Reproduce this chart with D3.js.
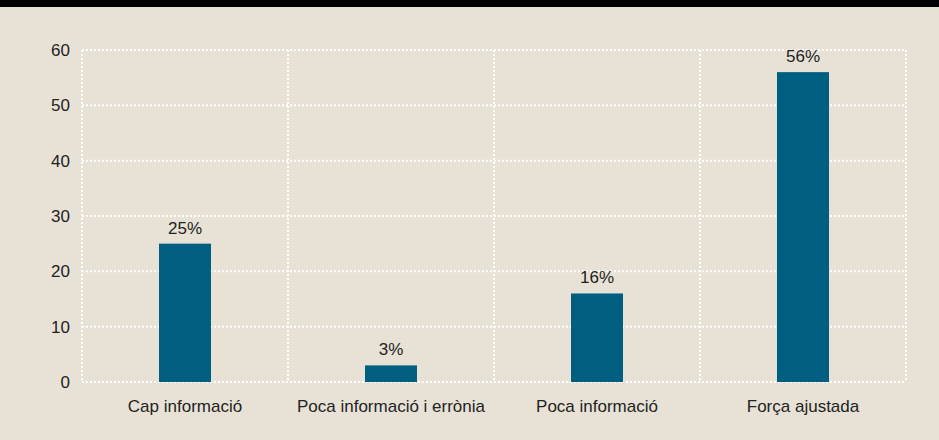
<!DOCTYPE html>
<html>
<head>
<meta charset="utf-8">
<script src="https://cdn.jsdelivr.net/npm/d3@7"></script>
<style>
    body { margin: 0; background: #e8e2d6; }
    svg { display: block; }
</style>
</head>
<body>
<div id="chart"></div>
<script>
var categories = ['Cap informació', 'Poca informació i errònia', 'Poca informació', 'Força ajustada']
var values = [25, 3, 16, 56]
var yTicks = [0, 10, 20, 30, 40, 50, 60]

var width = 939
var height = 440
var margin = { top: 50, right: 33, bottom: 58, left: 82 }

var svg = d3.select('#chart').append('svg')
    .attr('width', width)
    .attr('height', height)

svg.append('rect')
    .attr('width', width)
    .attr('height', height)
    .attr('fill', '#e8e2d6')

// black strip at the top (title bar cut off)
svg.append('rect')
    .attr('width', width)
    .attr('height', 7)
    .attr('fill', '#000')

var x = d3.scaleBand()
    .domain(categories)
    .range([margin.left, width - margin.right])

var y = d3.scaleLinear()
    .domain([0, 60])
    .range([height - margin.bottom, margin.top])

var grid = svg.append('g')
    .attr('stroke', '#fff')
    .attr('stroke-width', 2)
    .attr('stroke-dasharray', '2,2')

grid.selectAll('.h')
    .data(yTicks)
    .enter().append('line')
    .attr('x1', margin.left)
    .attr('x2', width - margin.right)
    .attr('y1', function(d) { return y(d) })
    .attr('y2', function(d) { return y(d) })

var edges = categories.map(function(c) { return x(c) }).concat([width - margin.right])

grid.selectAll('.v')
    .data(edges)
    .enter().append('line')
    .attr('x1', function(d) { return d })
    .attr('x2', function(d) { return d })
    .attr('y1', y(60))
    .attr('y2', y(0))

// y axis labels
var yAxis = svg.append('g')
    .attr('transform', 'translate(' + (margin.left - 12) + ',0)')
    .call(d3.axisLeft(y).tickValues(yTicks).tickSize(0).tickPadding(0))

yAxis.select('.domain').remove()
yAxis.selectAll('text')
    .attr('font-family', 'Liberation Sans, Arial, sans-serif')
    .attr('font-size', 17)
    .attr('fill', '#222')

var barWidth = 52

svg.append('g')
    .selectAll('rect')
    .data(values)
    .enter().append('rect')
    .attr('x', function(d, i) { return x(categories[i]) + x.bandwidth() / 2 - barWidth / 2 })
    .attr('y', function(d) { return y(d) })
    .attr('width', barWidth)
    .attr('height', function(d) { return y(0) - y(d) })
    .attr('fill', '#005e80')

svg.append('g')
    .selectAll('text')
    .data(values)
    .enter().append('text')
    .attr('x', function(d, i) { return x(categories[i]) + x.bandwidth() / 2 })
    .attr('y', function(d) { return y(d) - 10 })
    .attr('text-anchor', 'middle')
    .attr('font-family', 'Liberation Sans, Arial, sans-serif')
    .attr('font-size', 17)
    .attr('fill', '#222')
    .text(function(d) { return d + '%' })

var xAxis = svg.append('g')
    .attr('transform', 'translate(0,' + (y(0) + 30) + ')')
    .call(d3.axisBottom(x).tickSize(0).tickPadding(0))

xAxis.select('.domain').remove()
xAxis.selectAll('text')
    .attr('dy', 0)
    .attr('font-family', 'Liberation Sans, Arial, sans-serif')
    .attr('font-size', 17)
    .attr('fill', '#222')
</script>
</body>
</html>
